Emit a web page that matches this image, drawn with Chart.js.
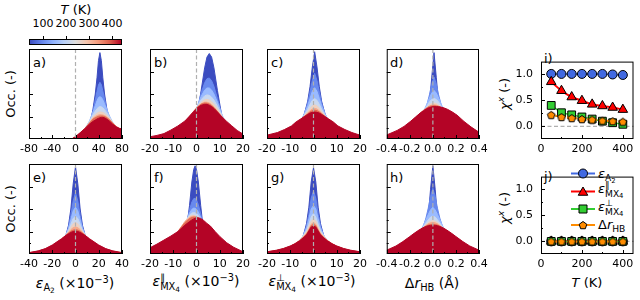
<!DOCTYPE html>
<html>
<head>
<meta charset="utf-8">
<title>Strain occupation histograms</title>
<script src="https://cdn.jsdelivr.net/npm/chart.js@4.4.1/dist/chart.umd.min.js"></script>
<style>
  body { margin: 0; background: #fff; }
  #fig { position: relative; width: 640px; height: 300px; overflow: hidden; font-family: "DejaVu Sans", sans-serif; color: #000; }
  #fig canvas { position: absolute; }
  .t { position: absolute; white-space: nowrap; line-height: 1; font-size: 14px; transform: translate(-50%, -50%); }
  .l { transform: translate(0, -50%); }
  .v { transform: translate(-50%, -50%) rotate(-90deg); }
  .s13 { font-size: 13px; }
  .s11 { font-size: 11px; }
  .sb { font-size: 0.7em; position: relative; top: 0.35em; }
  .sb2 { font-size: 0.75em; position: relative; top: 0.25em; }
  .sp { font-size: 0.7em; position: relative; top: -0.55em; }
  .ss { display: inline-flex; flex-direction: column; font-size: 0.7em; line-height: 0.95; vertical-align: 0.5em; }
  #cbar { position: absolute; left: 29px; top: 39px; width: 93px; height: 6px; box-sizing: border-box; border: 1px solid #000;
    background: linear-gradient(to right, #3b4cc0 0%, #6282ea 12.5%, #8db0fe 25%, #b8d0f9 37.5%, #dddddd 50%, #f5c4ac 62.5%, #f49a7b 75%, #de604d 87.5%, #b40426 100%); }
  .cbt { position: absolute; top: 36px; width: 1px; height: 3px; background: #000; }
</style>
</head>
<body>
<div id="fig">
  <div class="t s13" style="left:76px;top:9px"><i>T</i> (K)</div>
  <div class="t s11" style="left:43px;top:23px">100</div>
  <div class="t s11" style="left:66px;top:23px">200</div>
  <div class="t s11" style="left:89px;top:23px">300</div>
  <div class="t s11" style="left:112px;top:23px">400</div>
  <div class="cbt" style="left:43px"></div>
  <div class="cbt" style="left:66px"></div>
  <div class="cbt" style="left:89px"></div>
  <div class="cbt" style="left:112px"></div>
  <div id="cbar"></div>

  <div class="t l s13" style="left:33px;top:62px">a)</div>
  <div class="t l s13" style="left:154px;top:62px">b)</div>
  <div class="t l s13" style="left:271px;top:62px">c)</div>
  <div class="t l s13" style="left:390px;top:62px">d)</div>
  <div class="t l s13" style="left:544px;top:58px">i)</div>
  <div class="t l s13" style="left:33px;top:177px">e)</div>
  <div class="t l s13" style="left:154px;top:177px">f)</div>
  <div class="t l s13" style="left:271px;top:177px">g)</div>
  <div class="t l s13" style="left:390px;top:177px">h)</div>
  <div class="t l s13" style="left:544px;top:176px">j)</div>

  <div class="t v s13" style="left:10px;top:94px">Occ. (-)</div>
  <div class="t v s13" style="left:10px;top:209px">Occ. (-)</div>
  <div class="t v s13" style="left:505px;top:94px"><i>χ</i><span class="sp"><i>x</i></span> (-)</div>
  <div class="t v s13" style="left:505px;top:208px"><i>χ</i><span class="sp"><i>x</i></span> (-)</div>

  <div class="t" style="left:75px;top:283px"><i>ε</i><span class="sb">A<span class="sb2">2</span></span> (×10<span class="sp">−3</span>)</div>
  <div class="t" style="left:196px;top:283px"><i>ε</i><span class="ss"><span>∥</span><span>MX<span class="sb2">4</span></span></span> (×10<span class="sp">−3</span>)</div>
  <div class="t" style="left:312px;top:283px"><i>ε</i><span class="ss"><span>⊥</span><span>MX<span class="sb2">4</span></span></span> (×10<span class="sp">−3</span>)</div>
  <div class="t" style="left:432px;top:283px">Δ<i>r</i><span class="sb">HB</span> (Å)</div>
  <div class="t s13" style="left:587px;top:282px"><i>T</i> (K)</div>

  <div class="t l s13" style="left:598px;top:174px"><i>ε</i><span class="sb">A<span class="sb2">2</span></span></div>
  <div class="t l s13" style="left:598px;top:190px"><i>ε</i><span class="ss"><span>∥</span><span>MX<span class="sb2">4</span></span></span></div>
  <div class="t l s13" style="left:598px;top:208px"><i>ε</i><span class="ss"><span>⊥</span><span>MX<span class="sb2">4</span></span></span></div>
  <div class="t l s13" style="left:598px;top:225px">Δ<i>r</i><span class="sb">HB</span></div>

  <canvas id="cA" width="121" height="110" style="left:15px;top:47px"></canvas>
  <canvas id="cB" width="121" height="110" style="left:136px;top:47px"></canvas>
  <canvas id="cC" width="121" height="110" style="left:253px;top:47px"></canvas>
  <canvas id="cD" width="121" height="110" style="left:372px;top:47px"></canvas>
  <canvas id="cE" width="121" height="110" style="left:15px;top:162px"></canvas>
  <canvas id="cF" width="121" height="110" style="left:136px;top:162px"></canvas>
  <canvas id="cG" width="121" height="110" style="left:253px;top:162px"></canvas>
  <canvas id="cH" width="121" height="110" style="left:372px;top:162px"></canvas>
  <canvas id="cI" width="160" height="110" style="left:480px;top:47px"></canvas>
  <canvas id="cJ" width="160" height="110" style="left:480px;top:162px"></canvas>
</div>

<script>
// temperatures of the histogram layers (K)
const temps = [50, 100, 150, 200, 250, 300, 350, 400];

// a) eps_A2 (x1e-3), occupation in % of axis height, one row per temperature
const binsA = [-80, -20, -6, 0, 8, 16, 24, 30, 34, 37, 39.5, 42, 44.5, 47, 50, 54, 59, 64, 70, 75, 80];
const occA = [
  [0, 0, 0.1, 0.5, 2, 5, 13, 33, 50, 68, 87, 96, 87, 68, 50, 33, 18, 10, 5, 3, 1.5],
  [0, 0, 0.2, 1, 4, 8, 18, 31, 43, 53, 60, 63, 60.5, 53.5, 44.5, 33, 23, 16, 10, 6.5, 4],
  [0, 0, 0.2, 1.5, 5.5, 11, 20, 30, 37, 42.5, 46, 47, 46.2, 43.5, 39, 32.5, 25, 18.5, 13.5, 9.5, 6.5],
  [0, 0, 0.2, 1.8, 6, 11.5, 19.5, 27, 31, 33.5, 35.4, 36, 35.7, 34.6, 32.6, 29, 24, 18.5, 14, 10.5, 8.5],
  [0, 0, 0.2, 2, 6.4, 11.5, 18.5, 24.5, 27, 28.5, 29.6, 30, 29.9, 29.5, 28.4, 26.2, 22.5, 18, 14, 11, 9.5],
  [0, 0, 0.2, 2.2, 6.6, 11.5, 18, 23, 25, 26, 26.8, 27, 27, 26.7, 26, 24.5, 21.5, 17.8, 14, 11.5, 10],
  [0, 0, 0.2, 2.4, 6.8, 11.5, 17.5, 22, 23.7, 24.5, 25.2, 25.5, 25.6, 25.5, 25, 23.5, 21, 17.5, 14, 11.8, 10.5],
  [0, 0, 0.3, 2.6, 7, 11.5, 16.5, 19.5, 21, 22.2, 23, 23.6, 24, 24, 23.5, 22, 19.5, 16.5, 13.5, 12, 11]
];

// b) eps_MX4 parallel
const binsB = [-20, -17, -14, -11, -8, -5, -3, -1, 0.5, 2, 3.5, 4.5, 5.5, 6.5, 7.5, 9, 11, 13, 15, 17.5, 20];
const occB = [
  [0.1, 0.2, 0.2, 0.3, 0.5, 1.5, 5, 14, 30, 54, 79, 91, 95, 91, 79, 54, 24, 9, 3.5, 1, 0.3],
  [0.1, 0.2, 0.3, 0.4, 1, 3.6, 10, 23, 36.4, 51, 62.6, 67, 67.8, 64.8, 58.5, 45, 26, 12, 4.5, 1.5, 0.5],
  [0.2, 0.2, 0.3, 0.5, 1.7, 7.1, 15, 27, 37.4, 47.3, 54.4, 56.7, 56.7, 54.4, 50, 41, 27, 15, 7.1, 2.2, 0.5],
  [0.1, 0.1, 0.2, 1, 3.7, 10.9, 19, 29.2, 37, 43.6, 47.9, 49, 48.5, 46.5, 43.2, 36.5, 26, 16.3, 9, 3.6, 1.2],
  [0.1, 0.1, 0.5, 2, 6, 14, 21.6, 30.1, 36.1, 40.8, 43.5, 44, 43.3, 41.5, 38.8, 33.4, 25, 16.8, 10.2, 4.7, 1.8],
  [0.1, 0.3, 1.1, 3.4, 8.2, 16.6, 23.8, 31, 35.8, 39.2, 40.9, 40.9, 40, 38.2, 35.8, 31, 23.8, 16.6, 10.6, 5.4, 2.4],
  [0.1, 0.5, 1.6, 4.3, 9.7, 18.2, 25, 31.6, 35.8, 38.7, 40, 39.8, 38.8, 37.1, 34.8, 30.4, 23.6, 16.9, 11.1, 5.9, 2.7],
  [2.5, 4, 6, 10, 14.5, 20, 25.5, 31, 35, 37.5, 38.5, 38.5, 37.5, 36, 34, 30, 24.5, 19.5, 15, 9.5, 5.5]
];

// c) eps_MX4 perpendicular
const binsC = [-20, -15.5, -12.5, -9.5, -7.5, -5.5, -4, -2.5, -1.5, -0.5, 0.5, 1.5, 2.5, 3.5, 5, 6.5, 8.5, 10.5, 13.5, 16.5, 20];
const occC = [
  [0.3, 1, 2, 5, 9, 17, 27, 42, 58, 80, 97, 80, 58, 42, 27, 17, 9, 5, 2, 1, 0.3],
  [0.5, 1.5, 3.2, 7, 11.5, 19, 28, 40, 52, 65, 73, 65, 52, 40, 28, 19, 11.5, 7, 3.2, 1.5, 0.5],
  [0.9, 2.3, 4.5, 8.5, 13, 20, 27.5, 37, 45, 53, 57, 53, 45, 37, 27.5, 20, 13, 8.5, 4.5, 2.3, 0.9],
  [1.5, 3.3, 5.8, 10, 14.5, 20.5, 26.5, 33, 38.5, 43, 45, 43, 38.5, 33, 26.5, 20.5, 14.5, 10, 5.8, 3.3, 1.5],
  [2.2, 4.4, 7.3, 11.5, 16, 21, 25.5, 30.5, 34, 37, 38, 37, 34, 30.5, 25.5, 21, 16, 11.5, 7.3, 4.4, 2.2],
  [2.9, 5.4, 8.5, 12.5, 17, 21.5, 25, 28.8, 31.3, 33.3, 34, 33.3, 31.3, 28.8, 25, 21.5, 17, 12.5, 8.5, 5.4, 2.9],
  [3.6, 6.3, 9.5, 13.5, 18, 22, 24.9, 28, 30, 31.5, 32, 31.5, 30, 28, 24.9, 22, 18, 13.5, 9.5, 6.3, 3.6],
  [4.3, 7.2, 10.5, 14.5, 19, 22.3, 24.8, 27.3, 28.8, 29.6, 30, 29.6, 28.8, 27.3, 24.8, 22.3, 19, 14.5, 10.5, 7.2, 4.3]
];

// d) delta r_HB (A)
const binsD = [-0.4, -0.31, -0.25, -0.19, -0.15, -0.11, -0.08, -0.05, -0.03, -0.01, 0.01, 0.03, 0.05, 0.07, 0.1, 0.13, 0.17, 0.21, 0.27, 0.33, 0.4];
const occD = [
  [0, 0.1, 0.4, 1.3, 3, 7, 14, 26, 40, 68, 96, 68, 40, 26, 14, 7, 3, 1.3, 0.4, 0.1, 0],
  [0.4, 1.3, 3, 6.5, 11, 19, 27.5, 39, 49, 61, 69, 61, 49, 39, 27.5, 19, 11, 6.5, 3, 1.3, 0.4],
  [1, 2.6, 5.2, 10.5, 16, 24, 31, 39.5, 45.5, 51, 54, 51, 45.5, 39.5, 31, 24, 16, 10.5, 5.2, 2.6, 1],
  [1.6, 3.9, 7.2, 13, 18.5, 25.5, 31, 37, 41, 44, 45, 44, 41, 37, 31, 25.5, 18.5, 13, 7.2, 3.9, 1.6],
  [2.3, 5.4, 9.3, 15, 20.5, 26.5, 30.8, 35.2, 37.8, 39.4, 40, 39.4, 37.8, 35.2, 30.8, 26.5, 20.5, 15, 9.3, 5.4, 2.3],
  [3.1, 6.8, 11, 17, 22, 27.5, 31, 34.5, 36.5, 37.6, 38, 37.6, 36.5, 34.5, 31, 27.5, 22, 17, 11, 6.8, 3.1],
  [3.8, 8, 12.8, 19, 23.8, 28.8, 32, 34.8, 36.2, 36.8, 37, 36.8, 36.2, 34.8, 32, 28.8, 23.8, 19, 12.8, 8, 3.8],
  [4.5, 9.5, 14, 20, 24.5, 28.8, 31.5, 33.8, 35, 35.7, 36, 36, 35.9, 35.5, 34.4, 32.8, 29.9, 26.5, 19.5, 13.5, 7.5]
];

// e) eps_A2, second row
const binsE = [-40, -32, -26, -20, -16, -12, -9, -6, -4, -2, 0, 2, 4, 6, 9, 12, 16, 20, 26, 32, 40];
const occE = [
  [0.1, 0.3, 0.8, 2.2, 4.5, 9.5, 17, 32, 50, 78, 97, 78, 50, 32, 17, 9.5, 4.5, 2.2, 0.8, 0.3, 0.1],
  [0.2, 0.6, 1.4, 3.3, 6, 11, 18, 30, 43, 59, 68, 59, 43, 30, 18, 11, 6, 3.3, 1.4, 0.6, 0.2],
  [0.4, 1, 2.2, 4.5, 7.5, 13, 19, 28.5, 38, 48, 52, 48, 38, 28.5, 19, 13, 7.5, 4.5, 2.2, 1, 0.4],
  [0.6, 1.6, 3, 5.8, 9, 14, 19.5, 26.5, 33, 39.5, 42, 39.5, 33, 26.5, 19.5, 14, 9, 5.8, 3, 1.6, 0.6],
  [0.9, 2.2, 4, 7.2, 10.5, 15.2, 20, 25, 29.5, 33.5, 35, 33.5, 29.5, 25, 20, 15.2, 10.5, 7.2, 4, 2.2, 0.9],
  [1.2, 2.8, 5, 8.5, 11.8, 16, 20, 24, 27, 29.3, 30, 29.3, 27, 24, 20, 16, 11.8, 8.5, 5, 2.8, 1.2],
  [1.4, 3.2, 5.5, 9.3, 12.8, 16.5, 20, 23.3, 25.3, 26.6, 27, 26.6, 25.3, 23.3, 20, 16.5, 12.8, 9.3, 5.5, 3.2, 1.4],
  [1.5, 3.5, 6, 10, 13.5, 17, 20, 22.5, 24, 25, 25.5, 25, 24, 22.5, 20, 17, 13.5, 10, 6, 3.5, 1.5]
];

// f) eps_MX4 parallel, second row
const binsF = [-20, -17, -14, -11, -8, -5, -3, -2, -1.2, -0.6, 0, 0.8, 1.8, 3, 4.5, 6, 8, 10, 13, 16, 20];
const occF = [
  [0, 0.1, 0.2, 0.4, 1.5, 13, 54, 80, 94, 98, 94, 80, 54, 26, 9, 3, 1, 0.4, 0.2, 0.1, 0],
  [0, 0.1, 0.2, 1, 5, 26, 49, 57.8, 61.5, 61.9, 60.1, 54.7, 44.6, 30.6, 15.7, 6.5, 1.5, 0.5, 0.2, 0.1, 0],
  [0, 0.1, 0.4, 3, 12.7, 32.4, 45.5, 49.6, 51, 50.8, 49.6, 46.5, 40.8, 32.4, 21.6, 12.7, 5.1, 1.6, 0.3, 0.1, 0],
  [0.1, 0.45, 2.2, 7.8, 19.6, 35.2, 43.3, 45.5, 46, 45.7, 44.8, 42.7, 39, 33.2, 25.2, 17.6, 9.6, 4.5, 1.1, 0.2, 0],
  [0.4, 1.5, 4.9, 12.3, 23.9, 36.3, 41.7, 42.9, 43, 42.5, 41.7, 40, 37, 32.5, 26.1, 19.7, 12.3, 6.8, 2.3, 0.6, 0.1],
  [0.8, 2.5, 6.6, 14.3, 25.1, 35.9, 40.6, 41.8, 42, 41.8, 41.2, 39.9, 37.6, 34, 28.5, 22.8, 15.6, 9.7, 4, 1.4, 0.3],
  [1, 3, 7.3, 14.8, 24.9, 34.8, 39.4, 40.6, 41, 40.9, 40.6, 39.7, 37.8, 34.8, 30.1, 24.9, 17.9, 11.9, 5.5, 2.1, 0.5],
  [7, 11, 15.5, 20, 25, 32, 36, 37.8, 39, 39.7, 40.2, 40.2, 39.5, 37.5, 34, 31, 25, 19.5, 12.5, 7.5, 2.5]
];

// g) eps_MX4 perpendicular, second row
const binsG = [-20, -16, -13, -10, -8, -6, -4.5, -3, -2, -1, 0, 1, 2, 3, 4.5, 6, 8, 10, 13, 16, 20];
const occG = [
  [0.1, 0.4, 1, 2.5, 5, 11, 19, 34, 52, 80, 96, 80, 52, 34, 19, 11, 5, 2.5, 1, 0.4, 0.1],
  [0.2, 0.7, 1.7, 4, 7, 13, 20, 31, 44, 62, 70, 62, 44, 31, 20, 13, 7, 4, 1.7, 0.7, 0.2],
  [0.7, 1.7, 3.2, 6.2, 9.5, 15, 20, 29, 39, 50, 54, 50, 39, 29, 20, 15, 9.5, 6.2, 3.2, 1.7, 0.7],
  [1.2, 2.4, 4.2, 7.3, 10.5, 15, 20, 26, 33, 41, 45, 41, 33, 26, 20, 15, 10.5, 7.3, 4.2, 2.4, 1.2],
  [1.7, 3.2, 5.1, 8.2, 11.2, 15.3, 19.3, 24.5, 30, 36.5, 39, 36.5, 30, 24.5, 19.3, 15.3, 11.2, 8.2, 5.1, 3.2, 1.7],
  [2.1, 3.7, 5.6, 8.6, 11.3, 15, 18.6, 22.9, 27.5, 33, 35, 33, 27.5, 22.9, 18.6, 15, 11.3, 8.6, 5.6, 3.7, 2.1],
  [2.3, 3.9, 5.8, 8.7, 11.4, 14.8, 18.1, 22.1, 26.5, 31.5, 33, 31.5, 26.5, 22.1, 18.1, 14.8, 11.4, 8.7, 5.8, 3.9, 2.3],
  [2.5, 4.2, 6.1, 8.9, 11.4, 14.6, 17.7, 21.3, 25.5, 30, 31, 30, 25.5, 21.3, 17.7, 14.6, 11.4, 8.9, 6.1, 4.2, 2.5]
];

// h) delta r_HB, second row
const binsH = [-0.4, -0.32, -0.26, -0.2, -0.16, -0.12, -0.09, -0.06, -0.04, -0.02, 0, 0.02, 0.04, 0.06, 0.09, 0.12, 0.16, 0.2, 0.26, 0.32, 0.4];
const occH = [
  [0, 0.1, 0.4, 1.3, 3, 7.2, 14, 27, 41, 72, 98, 72, 41, 27, 14, 7.2, 3, 1.3, 0.4, 0.1, 0],
  [0.4, 1.3, 3, 6.5, 11, 19, 28, 40, 51, 64, 73, 64, 51, 40, 28, 19, 11, 6.5, 3, 1.3, 0.4],
  [0.9, 2.5, 5, 10, 15.5, 23, 30, 38, 44, 49, 52, 49, 44, 38, 30, 23, 15.5, 10, 5, 2.5, 0.9],
  [1.5, 3.8, 7, 12.5, 17.5, 24, 29, 34.5, 38, 41, 42, 41, 38, 34.5, 29, 24, 17.5, 12.5, 7, 3.8, 1.5],
  [2.2, 5.2, 9, 14.5, 19.5, 24.8, 28.7, 32.5, 35, 36.4, 37, 36.4, 35, 32.5, 28.7, 24.8, 19.5, 14.5, 9, 5.2, 2.2],
  [3, 6.5, 10.8, 16.2, 21, 25.5, 28.6, 31.6, 33.5, 34.6, 35, 34.6, 33.5, 31.6, 28.6, 25.5, 21, 16.2, 10.8, 6.5, 3],
  [3.6, 7.7, 12.3, 17.8, 22, 26.1, 28.7, 30.9, 32.2, 32.8, 33, 32.8, 32.2, 30.9, 28.7, 26.1, 22, 17.8, 12.3, 7.7, 3.6],
  [4.3, 8.9, 13.8, 19.4, 23.2, 26.7, 28.9, 30.6, 31.4, 31.8, 32, 31.8, 31.4, 30.6, 28.9, 26.7, 23.2, 19.4, 13.8, 8.9, 4.3]
];

// i) chi^x versus T, strained set
const chiA2 = [1.0, 1.0, 1.0, 1.0, 1.0, 1.0, 0.99, 0.98];
const chiPar = [0.85, 0.68, 0.56, 0.49, 0.42, 0.39, 0.36, 0.32];
const chiPerp = [0.40, 0.26, 0.22, 0.18, 0.14, 0.10, 0.07, 0.04];
const chiHB = [0.22, 0.18, 0.16, 0.14, 0.13, 0.11, 0.10, 0.09];

// j) chi^x versus T, second set
const chiA2J = [0, 0, 0, 0, 0, 0, 0, 0];
const chiParJ = [0, 0, 0, 0, 0, 0, 0, 0];
const chiPerpJ = [0, 0, 0, 0, 0, 0, 0, 0];
const chiHBJ = [0, 0, 0, 0, 0, 0, 0, 0];

// tick labels
const ticksA = [-80, -40, 0, 40, 80];
const ticksB = [-20, -10, 0, 10, 20];
const ticksD = [-0.4, -0.2, 0, 0.2, 0.4];
const ticksE = [-40, -20, 0, 20, 40];
const ticksT = [0, 200, 400];
const ticksChi = [0, 0.5, 1];

const tempColors = ['#3b4cc0', '#6889ee', '#9abbff', '#c9d8f0', '#edd1c1', '#f7a889', '#e26953', '#b40426'];

Chart.defaults.font.family = '"DejaVu Sans", sans-serif';
Chart.defaults.font.size = 11;
Chart.defaults.color = '#000';

function pentagon(size, fill) {
  const c = document.createElement('canvas');
  c.width = c.height = size;
  const ctx = c.getContext('2d');
  const r = size / 2 - 1;
  ctx.beginPath();
  for (let i = 0; i < 5; i++) {
    const a = -Math.PI / 2 + i * 2 * Math.PI / 5;
    const px = size / 2 + r * Math.cos(a);
    const py = size / 2 + 0.5 + r * Math.sin(a);
    if (i === 0) ctx.moveTo(px, py); else ctx.lineTo(px, py);
  }
  ctx.closePath();
  ctx.fillStyle = fill;
  ctx.fill();
  ctx.strokeStyle = '#000';
  ctx.lineWidth = 1;
  ctx.stroke();
  return c;
}

const penta = pentagon(10, '#ff8c00');

function marker(ctx, style, x, y, color) {
  ctx.save();
  ctx.fillStyle = color;
  ctx.strokeStyle = '#000';
  ctx.lineWidth = 1;
  ctx.setLineDash([]);
  ctx.beginPath();
  if (style === 'circle') {
    ctx.arc(x, y, 4.5, 0, Math.PI * 2);
  } else if (style === 'triangle') {
    for (let i = 0; i < 3; i++) {
      const a = -Math.PI / 2 + i * 2 * Math.PI / 3;
      const px = x + 5.5 * Math.cos(a), py = y + 1 + 5.5 * Math.sin(a);
      if (i === 0) ctx.moveTo(px, py); else ctx.lineTo(px, py);
    }
    ctx.closePath();
  } else if (style === 'rect') {
    ctx.rect(x - 4, y - 4, 8, 8);
  } else {
    ctx.restore();
    ctx.drawImage(penta, x - 5, y - 5);
    return;
  }
  ctx.fill();
  ctx.stroke();
  ctx.restore();
}

const legendRows = [
  { style: 'circle', color: '#4169e1' },
  { style: 'triangle', color: '#ff0000' },
  { style: 'rect', color: '#32cd32' },
  { style: 'pentagon', color: '#ff8c00' }
];

function framePlugin(cfg) {
  function zeroLine(chart) {
    const { ctx, chartArea: a, scales: { x, y } } = chart;
    ctx.save();
    ctx.strokeStyle = '#b0b0b0';
    ctx.lineWidth = 1.2;
    ctx.setLineDash([4, 2.5]);
    ctx.beginPath();
    if (cfg.zero === 'x') {
      const p = x.getPixelForValue(0);
      ctx.moveTo(p, a.top);
      ctx.lineTo(p, a.bottom);
    } else {
      const p = y.getPixelForValue(0);
      ctx.moveTo(a.left, p);
      ctx.lineTo(a.right, p);
    }
    ctx.stroke();
    ctx.restore();
  }
  return {
    id: 'frame',
    beforeDatasetsDraw(chart) {
      if (cfg.zero === 'y') zeroLine(chart);
    },
    afterDatasetsDraw(chart) {
      if (cfg.zero === 'x') zeroLine(chart);
    },
    afterDraw(chart) {
      const { ctx, chartArea: a, scales: { x, y } } = chart;
      ctx.save();
      ctx.strokeStyle = '#000';
      ctx.lineWidth = 1;
      ctx.beginPath();
      const xt = (list, len) => list.forEach(v => {
        const p = Math.round(x.getPixelForValue(v)) + 0.5;
        ctx.moveTo(p, a.bottom);
        ctx.lineTo(p, a.bottom - len);
      });
      const yt = (list, len) => list.forEach(v => {
        const p = Math.round(y.getPixelForValue(v)) + 0.5;
        ctx.moveTo(a.left, p);
        ctx.lineTo(a.left + len, p);
      });
      xt(cfg.xMajor, 4);
      xt(cfg.xMinor, 2);
      yt(cfg.yMajor, 4);
      yt(cfg.yMinor, 2);
      ctx.stroke();
      ctx.strokeRect(a.left + 0.5, a.top + 0.5, a.right - a.left - 1, a.bottom - a.top - 1);
      ctx.restore();

      if (cfg.legend) {
        const ys = [11.5, 29.5, 47, 63];
        legendRows.forEach((row, k) => {
          ctx.save();
          ctx.strokeStyle = row.color;
          ctx.lineWidth = 2;
          ctx.beginPath();
          ctx.moveTo(91, ys[k]);
          ctx.lineTo(115, ys[k]);
          ctx.stroke();
          ctx.restore();
          marker(ctx, row.style, 103, ys[k], row.color);
        });
      }
    }
  };
}

function histChart(id, bins, occ, range, ticks, minor, digits) {
  const datasets = occ.map((row, k) => ({
    data: row.map((v, i) => ({ x: bins[i], y: v })),
    backgroundColor: tempColors[k],
    borderColor: tempColors[k],
    borderWidth: 1,
    fill: 'origin',
    pointRadius: 0,
    tension: 0,
    order: temps.length - k
  }));

  new Chart(document.getElementById(id), {
    type: 'line',
    data: { datasets },
    options: {
      responsive: false,
      animation: false,
      devicePixelRatio: 1,
      events: [],
      layout: { padding: { left: 14, right: 14, top: 2, bottom: 0 } },
      plugins: { legend: { display: false }, tooltip: { enabled: false } },
      scales: {
        x: {
          type: 'linear', min: range[0], max: range[1],
          grid: { display: false, drawTicks: false },
          border: { display: false },
          afterBuildTicks: s => { s.ticks = ticks.map(v => ({ value: v })); },
          afterFit: s => { s.height = 18; },
          ticks: { autoSkip: false, maxRotation: 0, minRotation: 0, padding: 4, callback: v => v.toFixed(digits) }
        },
        y: { display: false, min: 0, max: 100 }
      }
    },
    plugins: [framePlugin({ zero: 'x', xMajor: ticks, xMinor: minor, yMajor: [25, 50, 75], yMinor: [12.5, 37.5] })]
  });
}

histChart('cA', binsA, occA, [-80, 80], ticksA, [-60, -20, 20, 60], 0);
histChart('cB', binsB, occB, [-20, 20], ticksB, [-15, -5, 5, 15], 0);
histChart('cC', binsC, occC, [-20, 20], ticksB, [-15, -5, 5, 15], 0);
histChart('cD', binsD, occD, [-0.4, 0.4], ticksD, [-0.3, -0.1, 0.1, 0.3], 1);
histChart('cE', binsE, occE, [-40, 40], ticksE, [-30, -10, 10, 30], 0);
histChart('cF', binsF, occF, [-20, 20], ticksB, [-15, -5, 5, 15], 0);
histChart('cG', binsG, occG, [-20, 20], ticksB, [-15, -5, 5, 15], 0);
histChart('cH', binsH, occH, [-0.4, 0.4], ticksD, [-0.3, -0.1, 0.1, 0.3], 1);

function chiChart(id, a2, par, perp, hb, legend) {
  const pts = arr => arr.map((v, i) => ({ x: temps[i], y: v }));
  const base = { pointBorderColor: '#000', pointBorderWidth: 1 };
  new Chart(document.getElementById(id), {
    type: 'line',
    data: {
      datasets: [
        Object.assign({ data: pts(a2), borderColor: '#4169e1', backgroundColor: '#4169e1', borderWidth: 1.5,
          pointStyle: 'circle', pointRadius: 4.5, order: 4 }, base),
        Object.assign({ data: pts(par), borderColor: '#ff0000', backgroundColor: '#ff0000', borderWidth: 2,
          pointStyle: 'triangle', pointRadius: 5.5, tension: 0.4, cubicInterpolationMode: 'monotone', order: 3 }, base),
        Object.assign({ data: pts(perp), borderColor: '#32cd32', backgroundColor: '#32cd32', borderWidth: 1.5,
          pointStyle: 'rect', pointRadius: 5.5, order: 2 }, base),
        Object.assign({ data: pts(hb), borderColor: '#ff8c00', backgroundColor: '#ff8c00', borderWidth: 2,
          borderDash: [2, 2], pointStyle: penta, pointRadius: 5, order: 1 }, base)
      ]
    },
    options: {
      responsive: false,
      animation: false,
      devicePixelRatio: 1,
      events: [],
      layout: { padding: { left: 0, right: 6, top: 2, bottom: 0 } },
      plugins: { legend: { display: false }, tooltip: { enabled: false } },
      scales: {
        x: {
          type: 'linear', min: 0, max: 452,
          grid: { display: false, drawTicks: false },
          border: { display: false },
          afterBuildTicks: s => { s.ticks = ticksT.map(v => ({ value: v })); },
          afterFit: s => { s.height = 18; },
          ticks: { autoSkip: false, maxRotation: 0, padding: 4, callback: v => String(v) }
        },
        y: {
          type: 'linear', min: -0.24, max: 1.235,
          grid: { display: false, drawTicks: false },
          border: { display: false },
          afterBuildTicks: s => { s.ticks = ticksChi.map(v => ({ value: v })); },
          afterFit: s => { s.width = 61; },
          ticks: { autoSkip: false, padding: 8, callback: v => v.toFixed(1) }
        }
      }
    },
    plugins: [framePlugin({ zero: 'y', xMajor: ticksT, xMinor: [100, 300], yMajor: ticksChi, yMinor: [0.25, 0.75], legend })]
  });
}

chiChart('cI', chiA2, chiPar, chiPerp, chiHB, false);
chiChart('cJ', chiA2J, chiParJ, chiPerpJ, chiHBJ, true);
</script>
</body>
</html>
